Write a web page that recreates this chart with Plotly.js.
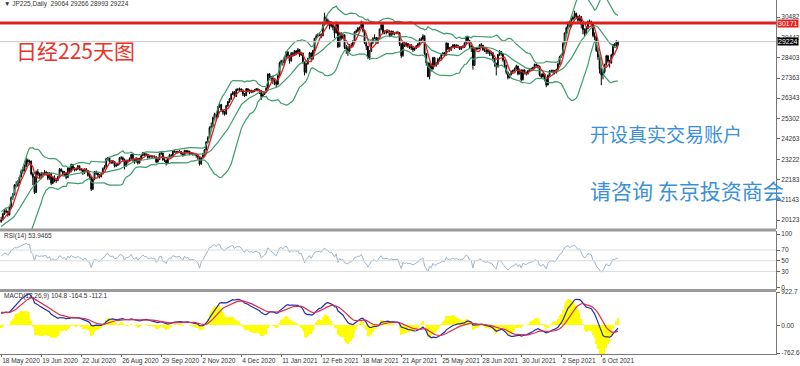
<!DOCTYPE html>
<html><head><meta charset="utf-8">
<script src="https://cdn.plot.ly/plotly-3.0.1.min.js"></script>
<style>html,body{margin:0;padding:0;background:#fff;}#chart{width:800px;height:366px;}</style>
</head><body><div id="chart"></div>
<script>
// ---- data (daily JP225 CFD, 18 May 2020 .. 20 Oct 2021) ----
const warmupCloses = [17002,17012,16726,16552,16900,16887,18092,19546,18665,19389,19084,18917,18065,17818,17820,18576,18950,19353,19345,19450,19043,19638,19550,19290,19897,19669,19280,19137,19429,19262,19783,19771,19900,20193,19619,19400,19500,19650,19674,20179,20390,20366,20267,19914,20037];

const opens = [20037,20133,20433,20595,20552,20388,20741,21271,21419,21916,
21877,22062,22325,22613,22695,22863,23178,23091,23124,22473,
22305,21530,22582,22455,22355,22478,22437,22549,22534,22259,
22512,21995,22288,22121,22145,22306,22714,22614,22438,22529,
22290,22784,22587,22945,22770,22696,22717,22884,22751,22680,
22520,22715,22657,22397,22339,21710,22195,22573,22514,22418,
22329,22480,22750,22843,23249,23289,23096,23051,23110,22880,
22920,22985,23296,23290,23208,22882,23139,23138,23247,23465,
23205,23089,23274,23032,23235,23406,23559,23454,23475,23319,
23360,23380,23350,23346,23087,23204,23511,23539,23185,23180,
23029,23312,23433,23422,23647,23619,23558,23601,23626,23507,
23410,23671,23567,23639,23474,23516,23494,23485,23418,23331,
22977,23295,23450,23695,24105,24325,24839,24905,25349,25520,
25385,25906,26014,25728,25634,25527,25950,26165,26296,26537,
26644,26433,26787,26800,26809,26751,26547,26467,26817,26756,
26652,26732,26687,26757,26806,26763,26714,26436,26524,26668,
26854,27568,27444,27350,27258,27158,27055,27490,28139,28250,
28164,28456,28698,28519,28242,28633,28523,28756,28631,28822,
28546,28635,28197,27663,28091,28362,28646,28341,28779,29388,
29505,29562,29600,29520,30084,30467,30292,30236,30017,30156,
29950,29671,30168,28966,29663,29408,29559,28930,28864,28743,
29028,29036,29211,29717,29766,29921,29914,30216,29792,29174,
28995,28405,28729,29176,29384,29432,29178,29388,29854,30089,
29696,29730,29708,29768,29538,29751,29620,29642,29683,29685,
29100,28508,29188,29020,29126,28991,29053,28900,28812,28900,
29000,29100,29331,29357,29518,28608,28147,27448,28084,27824,
28406,28044,28098,28317,28364,28553,28642,28549,29149,28860,
28814,28946,29058,28941,29019,28963,28860,28958,28948,29161,
29441,29291,29018,28964,28010,28884,28874,28875,29066,29048,
28812,28791,28707,28783,28598,28643,28366,28118,27940,28569,
28718,28608,28279,28003,27652,27388,27548,27700,27750,27833,
27970,27581,27782,27283,27781,27641,27584,27728,27820,27850,
27888,28070,28015,27977,27523,27424,27585,27281,27013,27494,
27732,27724,27742,27641,27789,28089,28451,28543,29128,29659,
29916,30181,30008,30381,30447,30670,30511,30323,30500,30100,
29839,29639,29900,30248,30240,30183,29544,29452,28771,28444,
27822,27528,27678,28048,28498,28230,28140,28550,29068,29025,
29064];

const highs = [20290,20490,20680,20710,20600,20790,21330,21500,21960,22100,
22160,22380,22700,22820,22960,23300,23250,23200,23160,22560,
22350,22650,22720,22540,22580,22560,22680,22630,22560,22560,
22530,22340,22400,22260,22380,22770,22760,22650,22620,22550,
22830,22800,23000,22990,22820,22800,22930,22900,22780,22700,
22760,22780,22680,22480,22350,22250,22620,22640,22560,22470,
22530,22800,22920,23300,23340,23320,23180,23180,23130,22990,
23050,23340,23380,23360,23260,23200,23210,23320,23500,23480,
23250,23330,23290,23300,23450,23600,23580,23530,23500,23420,
23440,23420,23420,23370,23260,23560,23600,23560,23280,23200,
23360,23500,23480,23700,23680,23650,23660,23700,23640,23540,
23700,23690,23700,23650,23580,23560,23540,23500,23430,23350,
23330,23550,23750,24150,24400,24900,25100,25400,25600,25550,
25950,26100,26050,25750,25700,26000,26200,26350,26600,26700,
26700,26830,26850,26880,26850,26780,26600,26860,26850,26780,
26780,26760,26800,26860,26850,26800,26730,26600,26700,26900,
27600,27620,27480,27500,27300,27250,27550,28200,28300,28300,
28500,28750,28750,28550,28700,28700,28800,28780,28900,28850,
28700,28660,28200,28150,28400,28700,28680,28800,29420,29600,
29650,29700,29650,30150,30700,30550,30400,30300,30250,30200,
29980,30250,30200,29700,29700,29650,29600,29050,29000,29100,
29150,29300,29750,29850,29980,30000,30300,30250,29800,29250,
29000,28800,29250,29450,29600,29450,29450,29900,30150,30100,
29800,29800,29850,29800,29800,29780,29700,29750,29780,29700,
29150,29250,29250,29200,29150,29100,29100,29000,28950,29050,
29150,29400,29450,29600,29550,28650,28200,28150,28100,28450,
28450,28200,28400,28450,28600,28700,28700,29200,29150,28950,
29000,29100,29100,29100,29080,29000,29000,29050,29200,29500,
29480,29300,29050,28970,28950,28950,28950,29100,29150,29050,
28900,28850,28850,28800,28750,28700,28400,28150,28600,28800,
28750,28650,28300,28050,27700,27600,27750,27800,27900,28050,
28000,27850,27800,27800,27800,27700,27780,27870,27900,27950,
28100,28100,28050,27990,27600,27650,27600,27300,27550,27780,
27800,27800,27780,27850,28150,28500,28600,29200,29700,30000,
30250,30300,30450,30550,30800,30700,30550,30600,30520,30150,
29900,30000,30300,30350,30300,30200,29700,29500,28900,28500,
27900,27800,28100,28550,28550,28300,28600,29100,29150,29300,
29266];

const lows = [19980,20090,20380,20470,20290,20350,20700,21150,21380,21780,
21820,22000,22290,22480,22600,22830,22950,22980,22400,21900,
21450,21500,22380,22250,22200,22300,22400,22380,22150,22180,
21900,21950,22050,22020,22100,22300,22560,22350,22380,22200,
22270,22500,22560,22700,22600,22620,22680,22650,22600,22420,
22480,22560,22340,22200,21600,21650,22150,22420,22330,22250,
22300,22450,22700,22800,23150,23000,22980,22990,22800,22820,
22880,22960,23200,23150,22700,22850,23000,23100,23220,23100,
23000,23050,22950,23000,23200,23380,23400,23380,23250,23280,
23300,23250,23280,23020,23050,23180,23450,23150,23080,22900,
23000,23300,23300,23400,23560,23500,23520,23560,23450,23350,
23400,23520,23530,23420,23450,23400,23420,23300,23200,22900,
22950,23250,23400,23680,24050,24300,24800,24880,25300,25200,
25350,25850,25650,25500,25450,25500,25900,26100,26250,26500,
26350,26400,26700,26700,26650,26450,26400,26450,26650,26550,
26600,26600,26650,26720,26680,26550,26250,26400,26500,26620,
26830,27350,27200,27050,27000,26900,27000,27450,28050,28000,
28100,28400,28450,28100,28200,28450,28500,28550,28600,28450,
28500,28100,27500,27600,28050,28350,28250,28300,28750,29350,
29450,29500,29400,29500,30050,30200,30150,29850,29950,29800,
29400,29650,28900,28950,29300,29350,28850,28600,28500,28700,
28900,29000,29200,29650,29700,29800,29900,29700,29100,28800,
28350,28300,28700,29100,29350,29100,29100,29380,29800,29600,
29600,29600,29650,29450,29500,29550,29550,29600,29600,29000,
28400,28450,28950,28950,28900,28850,28800,28700,28750,28850,
28950,29050,29250,29300,28550,28000,27400,27300,27700,27800,
27950,27950,28050,28250,28300,28500,28450,28500,28800,28700,
28750,28900,28850,28900,28900,28800,28800,28880,28900,29100,
29200,28900,28700,27800,28000,28800,28800,28850,28950,28750,
28700,28600,28600,28500,28500,28300,27950,27500,27900,28500,
28500,28200,27900,27550,27300,27350,27500,27600,27700,27800,
27500,27550,27200,27250,27550,27500,27550,27700,27750,27800,
27850,27950,27850,27450,27350,27400,27200,26900,27000,27450,
27650,27600,27550,27600,27750,28050,28400,28500,29100,29600,
29850,29950,29950,30300,30400,30400,30200,30250,29900,29600,
29500,29600,29850,30150,30000,29450,29300,28700,28300,27600,
27000,27300,27600,28000,28150,27900,28100,28500,28900,28950,
28993];

const closes = [20133,20433,20595,20552,20388,20741,21271,21419,21916,21877,
22062,22325,22613,22695,22863,23178,23091,23124,22473,22305,
21530,22582,22455,22355,22478,22437,22549,22534,22259,22512,
21995,22288,22121,22145,22306,22714,22614,22438,22529,22290,
22784,22587,22945,22770,22696,22717,22884,22751,22680,22520,
22715,22657,22397,22339,21710,22195,22573,22514,22418,22329,
22480,22750,22843,23249,23289,23096,23051,23110,22880,22920,
22985,23296,23290,23208,22882,23139,23138,23247,23465,23205,
23089,23274,23032,23235,23406,23559,23454,23475,23319,23360,
23380,23350,23346,23087,23204,23511,23539,23185,23180,23029,
23312,23433,23422,23647,23619,23558,23601,23626,23507,23410,
23671,23567,23639,23474,23516,23494,23485,23418,23331,22977,
23295,23450,23695,24105,24325,24839,24905,25349,25520,25385,
25906,26014,25728,25634,25527,25950,26165,26296,26537,26644,
26433,26787,26800,26809,26751,26547,26467,26817,26756,26652,
26732,26687,26757,26806,26763,26714,26436,26524,26668,26854,
27568,27444,27350,27258,27158,27055,27490,28139,28250,28164,
28456,28698,28519,28242,28633,28523,28756,28631,28822,28546,
28635,28197,27663,28091,28362,28646,28341,28779,29388,29505,
29562,29600,29520,30084,30467,30292,30236,30017,30156,29950,
29671,30168,28966,29663,29408,29559,28930,28864,28743,29028,
29036,29211,29717,29766,29921,29914,30216,29792,29174,28995,
28405,28729,29176,29384,29432,29178,29388,29854,30089,29696,
29730,29708,29768,29538,29751,29620,29642,29683,29685,29100,
28508,29188,29020,29126,28991,29053,28900,28812,28900,29000,
29100,29331,29357,29518,28608,28147,27448,28084,27824,28406,
28044,28098,28317,28364,28553,28642,28549,29149,28860,28814,
28946,29058,28941,29019,28963,28860,28958,28948,29161,29441,
29291,29018,28964,28010,28884,28874,28875,29066,29048,28812,
28791,28707,28783,28598,28643,28366,28118,27940,28569,28718,
28608,28279,28003,27652,27388,27548,27700,27750,27833,27970,
27581,27782,27283,27781,27641,27584,27728,27820,27850,27888,
28070,28015,27977,27523,27424,27585,27281,27013,27494,27732,
27724,27742,27641,27789,28089,28451,28543,29128,29659,29916,
30181,30008,30381,30447,30670,30511,30323,30500,30100,29839,
29639,29900,30248,30240,30183,29544,29452,28771,28444,27822,
27528,27678,28048,28498,28230,28140,28550,29068,29025,29215,
29224];

const dateTickLabels = ['18 May 2020','19 Jun 2020','22 Jul 2020','26 Aug 2020','29 Sep 2020','2 Nov 2020','4 Dec 2020','11 Jan 2021','12 Feb 2021','18 Mar 2021','21 Apr 2021','25 May 2021','28 Jun 2021','30 Jul 2021','2 Sep 2021','6 Oct 2021'];
const barsPerDateTick = 24;
const priceTicks = [20123,21143,22183,23222,24263,25302,26343,27363,28403,29442,30482];
const rsiTicks = [0,30,50,70,100];
const rsiLevels = [70,50,30];
const macdTicks = [-762.6,0,922.7];
const macdTickText = ['-762.6','0.00','922.7'];
const resistanceLevel = 30171;
const lastPrice = 29224;
const headerText = '\u25BC JP225,Daily  29064 29266 28993 29224';
const rsiLabel = 'RSI(14) 53.9465';
const macdLabel = 'MACD(12,26,9) 104.8 -164.5 -112.1';
const titleCN = '日经225天图';
const adLine1 = '开设真实交易账户';
const adLine2 = '请咨询 东京投资商会';

// ---- indicators ----
function sma(a,n){return a.map((v,i)=>i<n-1?null:a.slice(i-n+1,i+1).reduce((s,x)=>s+x,0)/n);}
function sdev(a,n,m){return a.map((v,i)=>{if(i<n-1)return null;const s=a.slice(i-n+1,i+1);return Math.sqrt(s.reduce((t,x)=>t+(x-m[i])**2,0)/n);});}
function ema(a,n){const k=2/(n+1);const o=[];a.forEach((v,i)=>o.push(i===0?v:v*k+o[i-1]*(1-k)));return o;}
function rsiCalc(a,n){const o=new Array(a.length).fill(null);let g=0,l=0;for(let i=1;i<=n;i++){const d=a[i]-a[i-1];if(d>0)g+=d;else l-=d;}g/=n;l/=n;o[n]=100-100/(1+g/l);for(let i=n+1;i<a.length;i++){const d=a[i]-a[i-1];g=(g*(n-1)+Math.max(d,0))/n;l=(l*(n-1)+Math.max(-d,0))/n;o[i]=l===0?100:100-100/(1+g/l);}return o;}

const all = warmupCloses.concat(closes);
const W0 = warmupCloses.length;
const mid = sma(all,20), sd = sdev(all,20,mid);
const upper = mid.map((m,i)=>m+2*sd[i]), lower = mid.map((m,i)=>m-2*sd[i]);
const fastMA = sma(all,5);
const rsiAll = rsiCalc(all,14);
const e12 = ema(all,12), e26 = ema(all,26);
const macdAll = e12.map((v,i)=>v-e26[i]);
const sigAll = ema(macdAll,9);
const histAll = macdAll.map((v,i)=>2.5*(v-sigAll[i]));
const cut = a=>a.slice(W0);
const xs = closes.map((_,i)=>i);

const PW=776, PH=354;
const px=p=>p/PW, py=p=>1-p/PH;

const green='#3c9d6c';
const traces = [
 {x:xs,y:cut(upper),type:'scatter',mode:'lines',line:{color:green,width:1.2},xaxis:'x',yaxis:'y'},
 {x:xs,y:cut(mid),type:'scatter',mode:'lines',line:{color:green,width:1.2},xaxis:'x',yaxis:'y'},
 {x:xs,y:cut(lower),type:'scatter',mode:'lines',line:{color:green,width:1.2},xaxis:'x',yaxis:'y'},
 {x:xs,open:opens,high:highs,low:lows,close:closes,type:'candlestick',xaxis:'x',yaxis:'y',
  increasing:{line:{color:'#000',width:1},fillcolor:'#fff'},decreasing:{line:{color:'#000',width:1},fillcolor:'#000'},whiskerwidth:0},
 {x:xs,y:cut(fastMA),type:'scatter',mode:'lines',line:{color:'#e02020',width:1.3},xaxis:'x',yaxis:'y'},
 {x:xs,y:cut(rsiAll),type:'scatter',mode:'lines',line:{color:'#9db3c8',width:1},xaxis:'x',yaxis:'y2'},
 {x:xs,y:cut(histAll),type:'bar',marker:{color:'#ffff00',line:{width:0}},xaxis:'x',yaxis:'y3'},
 {x:xs,y:cut(macdAll),type:'scatter',mode:'lines',line:{color:'#2a2ab0',width:1.2},xaxis:'x',yaxis:'y3'},
 {x:xs,y:cut(sigAll),type:'scatter',mode:'lines',line:{color:'#d8304a',width:1.2},xaxis:'x',yaxis:'y3'}
];

const tickFont={family:'Liberation Sans, DejaVu Sans, sans-serif',size:6.5,color:'#333'};
const yBase={side:'right',anchor:'x',ticks:'outside',ticklen:3,tickcolor:'#666',showgrid:false,zeroline:false,showline:true,linecolor:'#777',linewidth:1,tickfont:tickFont,fixedrange:true};

const shapes = [
 {type:'line',xref:'paper',x0:0,x1:1,yref:'y',y0:lastPrice,y1:lastPrice,line:{color:'#c8c8c8',width:1}},
 {type:'line',xref:'paper',x0:0,x1:1,yref:'y',y0:resistanceLevel,y1:resistanceLevel,line:{color:'#e02020',width:3}},
 ...rsiLevels.map(v=>({type:'line',xref:'paper',x0:0,x1:1,yref:'y2',y0:v,y1:v,line:{color:'#dcdcdc',width:1}})),
 {type:'line',xref:'paper',x0:0,x1:1,yref:'paper',y0:py(230),y1:py(230),line:{color:'#9a9a9a',width:3}},
 {type:'line',xref:'paper',x0:0,x1:1,yref:'paper',y0:py(290.5),y1:py(290.5),line:{color:'#9a9a9a',width:3}}
];

const annFont=(s,c)=>({family:'Liberation Sans, DejaVu Sans, sans-serif',size:s,color:c});
const cnFont=(s,c)=>({family:'Noto Sans CJK SC, sans-serif',size:s,color:c});
const annotations = [
 {xref:'paper',yref:'paper',x:px(2),y:py(4),xanchor:'left',yanchor:'middle',text:headerText,showarrow:false,font:annFont(6.5,'#333')},
 {xref:'paper',yref:'paper',x:px(2),y:py(236),xanchor:'left',yanchor:'middle',text:rsiLabel,showarrow:false,font:annFont(6.5,'#333')},
 {xref:'paper',yref:'paper',x:px(2),y:py(296),xanchor:'left',yanchor:'middle',text:macdLabel,showarrow:false,font:annFont(6.5,'#333')},
 {xref:'paper',yref:'paper',x:px(14),y:py(50),xanchor:'left',yanchor:'middle',text:titleCN,showarrow:false,font:cnFont(21,'#e8352b')},
 {xref:'paper',yref:'paper',x:px(588),y:py(133),xanchor:'left',yanchor:'middle',text:adLine1,showarrow:false,font:cnFont(19,'#3a90d8')},
 {xref:'paper',yref:'paper',x:px(588),y:py(190),xanchor:'left',yanchor:'middle',text:adLine2,showarrow:false,font:cnFont(21,'#3a90d8')},
 {xref:'paper',yref:'y',x:1,y:resistanceLevel,xanchor:'left',yanchor:'middle',xshift:1,text:String(resistanceLevel),showarrow:false,bgcolor:'#e8201c',borderpad:0,font:annFont(7,'#fff')},
 {xref:'paper',yref:'y',x:1,y:lastPrice,xanchor:'left',yanchor:'middle',xshift:1,text:String(lastPrice),showarrow:false,bgcolor:'#000',borderpad:0,font:annFont(7,'#fff')}
];

const layout = {
 width:800,height:366,margin:{l:0,r:24,t:0,b:12},
 paper_bgcolor:'#fff',plot_bgcolor:'#fff',showlegend:false,hovermode:false,bargap:0,
 xaxis:{range:[-0.7,PW/1.667-0.7],anchor:'y3',tickvals:dateTickLabels.map((_,i)=>i*barsPerDateTick),ticktext:dateTickLabels,
   ticks:'outside',ticklen:2,tickcolor:'#666',ticklabelposition:'outside right',tickangle:0,showgrid:false,zeroline:false,showline:true,linecolor:'#777',
   tickfont:annFont(6.5,'#333'),rangeslider:{visible:false},fixedrange:true,automargin:false},
 yaxis:Object.assign({},yBase,{domain:[py(229),1],range:[19664,31350],tickvals:priceTicks,ticktext:priceTicks.map(String)}),
 yaxis2:Object.assign({},yBase,{domain:[py(289.5),py(231)],range:[-3.8,105.7],tickvals:rsiTicks}),
 yaxis3:Object.assign({},yBase,{domain:[0,py(292)],range:[-790,925],tickvals:macdTicks,ticktext:macdTickText}),
 shapes,annotations
};
Plotly.newPlot('chart',traces,layout,{staticPlot:true,displayModeBar:false});
</script></body></html>
